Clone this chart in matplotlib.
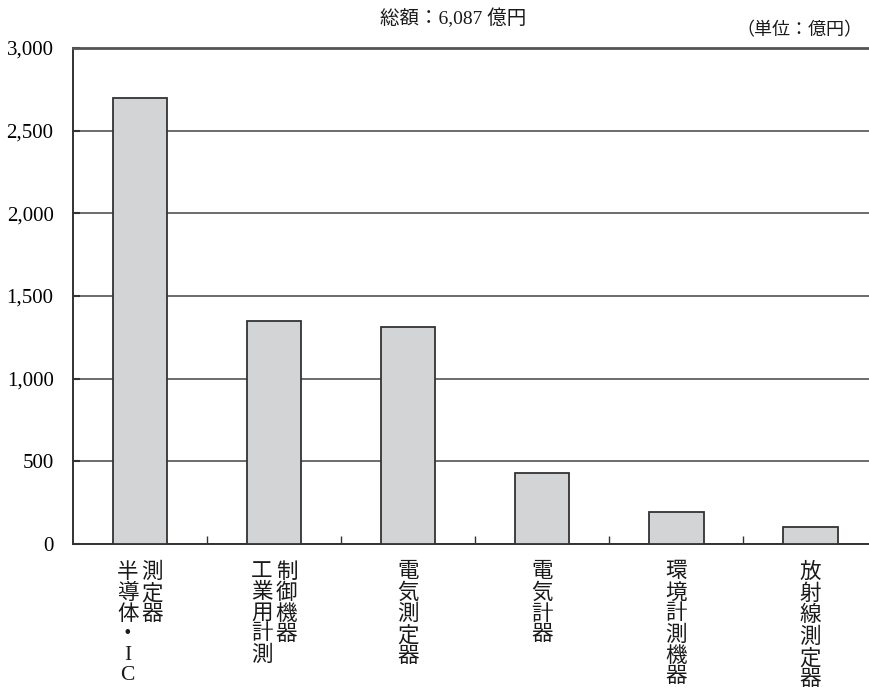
"""Bar chart: 計測器 category sales (総額 6,087 億円)."""

import matplotlib
matplotlib.use("Agg")
import matplotlib.pyplot as plt
import matplotlib.transforms as mtransforms

plt.rcParams["font.family"] = ["Liberation Serif", "Noto Sans CJK JP", "DejaVu Sans"]

# label columns, left to right, for each category (vertical text)
label_columns = [
    ["半導体・IC", "測定器"],
    ["工業用計測", "制御機器"],
    ["電気測定器"],
    ["電気計器"],
    ["環境計測機器"],
    ["放射線測定器"],
]
values = [2700, 1350, 1310, 430, 195, 102]
yticks = [0, 500, 1000, 1500, 2000, 2500, 3000]
ytick_labels = ["0", "500", "1,000", "1,500", "2,000", "2,500", "3,000"]
title = "総額：6,087 億円"
unit = "（単位：億円）"

fig = plt.figure(figsize=(8.69, 6.92), dpi=100)
ax = fig.add_axes([73 / 869, 1 - 544 / 692, 1 - 73 / 869, (544 - 48) / 692])

x = list(range(len(values)))
ax.bar(x, values, width=0.41, color="#d3d4d6", edgecolor="#333333",
       linewidth=1.3, zorder=3)

ax.set_xlim(-0.5, 5.44)
ax.set_ylim(0, 3000)
ax.set_yticks(yticks)
ax.set_yticklabels(ytick_labels, fontsize=15)
ax.set_xticks([i + 0.5 for i in range(len(values) - 1)])
ax.set_xticklabels([])
ax.tick_params(axis="x", direction="in", length=6, width=1, color="#333333")
ax.tick_params(axis="y", direction="in", length=5, width=1.5, color="#333333", pad=14)

ax.grid(axis="y", color="#444444", linewidth=1.1, zorder=1)
for s in ("left", "bottom"):
    ax.spines[s].set_color("#333333")
    ax.spines[s].set_linewidth(1.4)
ax.spines["top"].set_color("#555555")
ax.spines["top"].set_linewidth(2)
ax.spines["right"].set_visible(False)

# vertical category labels
trans = mtransforms.blended_transform_factory(ax.transData, fig.transFigure)
col_gap = 0.185
for i, cols in enumerate(label_columns):
    n = len(cols)
    for j, col in enumerate(cols):
        xo = i + (j - (n - 1) / 2) * col_gap
        ax.text(xo, 1 - 563 / 692, "\n".join(col), transform=trans,
                ha="center", va="top", fontsize=15.5, linespacing=1.08,
                color="#1a1a1a")

fig.text(453 / 869, 1 - 18 / 692, title, ha="center", va="center",
         fontsize=14, color="#1a1a1a")
fig.text(862 / 869, 1 - 31 / 692, unit, ha="right", va="center",
         fontsize=13, color="#1a1a1a")

fig.savefig("out.png", dpi=100)
